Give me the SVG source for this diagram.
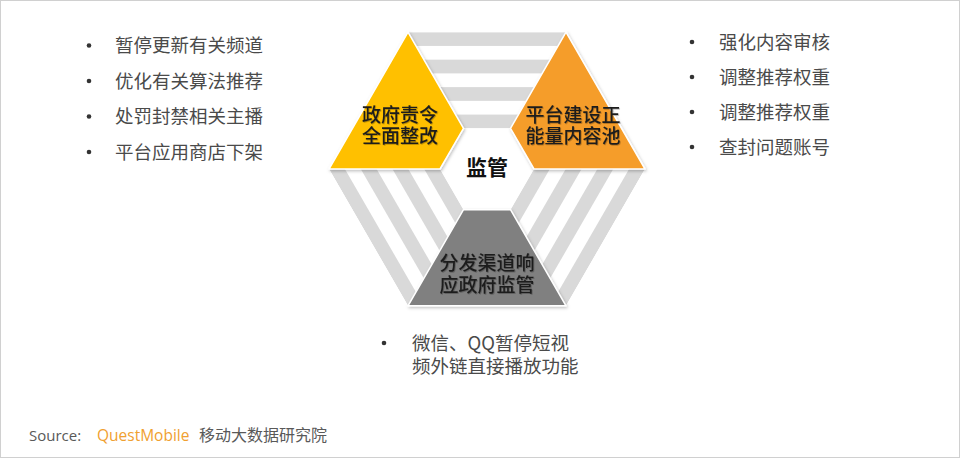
<svg xmlns="http://www.w3.org/2000/svg" xmlns:xlink="http://www.w3.org/1999/xlink" width="960" height="458" viewBox="0 0 960 458">
<style>
.list{font-family:"Noto Sans CJK SC","Noto Sans",sans-serif;font-size:18.5px;fill:#4a4a4a}
.tri{font-family:"Noto Sans CJK SC","Noto Sans",sans-serif;font-size:19px;font-weight:500;fill:#1e1e1e;text-anchor:middle}
.bul{fill:#333}
.stripe{fill:#d9d9d9}
.shape{stroke:#ffffff;stroke-width:1.5;stroke-linejoin:round}
</style>
<defs>
<clipPath id="band"><polygon points="408,32.2 566,32.2 510.5,128.3 463.5,128.3"/></clipPath>
<g id="stripes" clip-path="url(#band)">
<rect class="stripe" x="300" y="32.2" width="380" height="13.73"/>
<rect class="stripe" x="300" y="59.66" width="380" height="13.73"/>
<rect class="stripe" x="300" y="87.12" width="380" height="13.73"/>
<rect class="stripe" x="300" y="114.58" width="380" height="13.73"/>
</g>
<filter id="sh" x="-20%" y="-20%" width="140%" height="140%"><feDropShadow dx="1" dy="1.5" stdDeviation="1.5" flood-color="#000" flood-opacity="0.25"/></filter>
<filter id="tsh" x="-10%" y="-10%" width="120%" height="130%"><feDropShadow dx="0.8" dy="0.8" stdDeviation="0.6" flood-color="#000" flood-opacity="0.3"/></filter>
</defs>
<rect x="0.5" y="0.5" width="959" height="457" fill="#ffffff" stroke="#d0d0d0" stroke-width="1"/>
<g id="bands">
<use xlink:href="#stripes"/>
<use xlink:href="#stripes" transform="rotate(120 487 169)"/>
<use xlink:href="#stripes" transform="rotate(240 487 169)"/>
</g>
<g id="node-yellow">
<polygon class="shape" filter="url(#sh)" points="408,32.2 463.5,128.3 440,169 329,169" fill="#FFC000"/>
<text class="tri" filter="url(#tsh)"><tspan x="400" y="122">政府责令</tspan><tspan x="400" y="143">全面整改</tspan></text>
</g>
<g id="node-orange">
<polygon class="shape" filter="url(#sh)" points="566,32.2 645,169 534,169 510.5,128.3" fill="#F59D2A"/>
<text class="tri" filter="url(#tsh)"><tspan x="573" y="122">平台建设正</tspan><tspan x="573" y="143">能量内容池</tspan></text>
</g>
<g id="node-gray">
<polygon class="shape" filter="url(#sh)" points="463.5,209.7 510.5,209.7 566,305.8 408,305.8" fill="#808080"/>
<text class="tri" filter="url(#tsh)"><tspan x="487" y="270">分发渠道响</tspan><tspan x="487" y="292">应政府监管</tspan></text>
</g>
<g id="node-center">
<text x="487" y="175" font-family="Noto Sans CJK SC, Noto Sans, sans-serif" font-size="21" font-weight="bold" fill="#111" text-anchor="middle">监管</text>
</g>
<g id="list-left">
<circle class="bul" cx="89" cy="45.5" r="2.3"/><text class="list" x="115" y="52">暂停更新有关频道</text>
<circle class="bul" cx="89" cy="81" r="2.3"/><text class="list" x="115" y="87.5">优化有关算法推荐</text>
<circle class="bul" cx="89" cy="116.5" r="2.3"/><text class="list" x="115" y="123">处罚封禁相关主播</text>
<circle class="bul" cx="89" cy="152" r="2.3"/><text class="list" x="115" y="158.5">平台应用商店下架</text>
</g>
<g id="list-right">
<circle class="bul" cx="692" cy="42" r="2.3"/><text class="list" x="719" y="48.5">强化内容审核</text>
<circle class="bul" cx="692" cy="77" r="2.3"/><text class="list" x="719" y="83.5">调整推荐权重</text>
<circle class="bul" cx="692" cy="112" r="2.3"/><text class="list" x="719" y="118.5">调整推荐权重</text>
<circle class="bul" cx="692" cy="147" r="2.3"/><text class="list" x="719" y="153.5">查封问题账号</text>
</g>
<g id="list-bottom">
<circle class="bul" cx="384" cy="343" r="2.3"/>
<text class="list"><tspan x="412" y="349.5">微信、QQ暂停短视</tspan><tspan x="412" y="372.5">频外链直接播放功能</tspan></text>
</g>
<g id="source">
<text x="29" y="441" font-family="Open Sans, Liberation Sans, sans-serif" font-size="15" fill="#595959">Source:</text>
<text x="97" y="441" font-family="Open Sans, Liberation Sans, sans-serif" font-size="15.5" fill="#F0A030">QuestMobile</text>
<text x="199" y="441" font-family="Noto Sans CJK SC, Noto Sans, sans-serif" font-size="16" fill="#595959">移动大数据研究院</text>
</g>
</svg>
